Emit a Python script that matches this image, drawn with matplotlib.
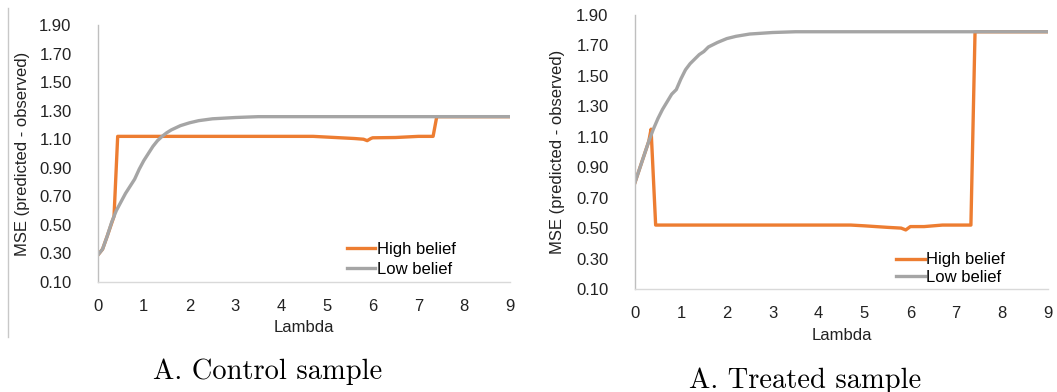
import matplotlib
matplotlib.use('Agg')
import matplotlib.pyplot as plt
from matplotlib.lines import Line2D

# Control sample
ctrl_low_x = [0.0, 0.1, 0.2, 0.3, 0.4, 0.5, 0.6, 0.7, 0.8, 0.9, 1.0, 1.1, 1.2, 1.3, 1.4,
              1.5, 1.6, 1.7, 1.8, 2.0, 2.2, 2.5, 3.0, 3.5, 9.0]
ctrl_low_y = [0.29, 0.33, 0.42, 0.52, 0.60, 0.66, 0.72, 0.77, 0.82, 0.89, 0.95, 1.00, 1.05, 1.09, 1.12,
              1.145, 1.165, 1.18, 1.195, 1.215, 1.23, 1.243, 1.252, 1.258, 1.258]
ctrl_high_x = [0.0, 0.1, 0.2, 0.35, 0.43, 4.7, 5.0, 5.3, 5.6, 5.8, 5.88, 5.96, 6.0, 6.5, 7.0,
               7.32, 7.4, 9.0]
ctrl_high_y = [0.29, 0.33, 0.42, 0.56, 1.12, 1.12, 1.115, 1.11, 1.105, 1.10, 1.09, 1.105, 1.11, 1.112, 1.12,
               1.12, 1.258, 1.258]

# Treated sample
trt_low_x = [0.0, 0.1, 0.2, 0.3, 0.4, 0.5, 0.6, 0.7, 0.8, 0.9, 1.0, 1.1, 1.2, 1.3, 1.4,
             1.5, 1.6, 1.8, 2.0, 2.2, 2.5, 3.0, 3.5, 9.0]
trt_low_y = [0.80, 0.89, 0.98, 1.07, 1.15, 1.22, 1.28, 1.33, 1.38, 1.41, 1.48, 1.54, 1.58, 1.61, 1.64,
             1.66, 1.69, 1.72, 1.745, 1.76, 1.775, 1.785, 1.79, 1.79]
trt_high_x = [0.0, 0.1, 0.2, 0.3, 0.35, 0.45, 4.7, 5.0, 5.5, 5.8, 5.9, 6.0, 6.3, 6.5, 6.7, 7.0,
              7.32, 7.41, 9.0]
trt_high_y = [0.80, 0.89, 0.98, 1.07, 1.15, 0.52, 0.52, 0.515, 0.505, 0.50, 0.488, 0.51, 0.51, 0.515, 0.52, 0.52,
              0.52, 1.79, 1.79]

y_ticks = [0.10, 0.30, 0.50, 0.70, 0.90, 1.10, 1.30, 1.50, 1.70, 1.90]
x_ticks = list(range(10))

ORANGE = '#ED7D31'
GREY = '#A5A5A5'

plt.rcParams['font.family'] = ['Liberation Sans', 'DejaVu Sans']

fig = plt.figure(figsize=(10.57, 3.92), dpi=100)
ax1 = fig.add_axes([98 / 1057, 1 - 282 / 392, 412 / 1057, 257 / 392])
ax2 = fig.add_axes([635 / 1057, 1 - 289 / 392, 413 / 1057, 274 / 392])


def style_axis(ax, high_x, high_y, low_x, low_y, leg_anchor, spacing):
    ax.plot(high_x, high_y, color=ORANGE, lw=2.4, label='High belief', solid_joinstyle='round')
    ax.plot(low_x, low_y, color=GREY, lw=2.4, label='Low belief', solid_joinstyle='round')
    ax.set_xlim(0, 9)
    ax.set_ylim(0.10, 1.90)
    ax.set_xticks(x_ticks)
    ax.set_yticks(y_ticks)
    ax.set_yticklabels([f'{v:.2f}' for v in y_ticks])
    ax.tick_params(axis='both', length=0, labelsize=12, colors='#222222')
    ax.tick_params(axis='y', pad=19)
    ax.tick_params(axis='x', pad=12)
    for s in ['top', 'right']:
        ax.spines[s].set_visible(False)
    ax.spines['left'].set_color('#BFBFBF')
    ax.spines['bottom'].set_color('#D9D9D9')
    ax.spines['left'].set_linewidth(1.0)
    ax.spines['bottom'].set_linewidth(1.0)
    ax.set_xlabel('Lambda', fontsize=12, color='#222222')
    ax.set_ylabel('MSE (predicted - observed)', fontsize=12, color='#222222')
    ax.legend(loc='lower left', bbox_to_anchor=leg_anchor, frameon=False, fontsize=12,
              handlelength=1.7, handletextpad=0.1, borderpad=0, borderaxespad=0,
              labelspacing=spacing)


style_axis(ax1, ctrl_high_x, ctrl_high_y, ctrl_low_x, ctrl_low_y, (0.604, 0.02), 0.3)
style_axis(ax2, trt_high_x, trt_high_y, trt_low_x, trt_low_y, (0.633, 0.015), 0.15)

ax1.yaxis.set_label_coords(-68 / 412, 0.5)
ax2.yaxis.set_label_coords(-70 / 413, 0.5)
ax1.xaxis.set_label_coords(0.5, -38 / 257)
ax2.xaxis.set_label_coords(0.5, -39 / 274)

# thin border line on the far left
fig.add_artist(Line2D([8 / 1057, 8 / 1057], [1 - 337 / 392, 1 - 8 / 392],
                      color='#C8C8C8', lw=1.0))

fig.text(268 / 1057, 1 - 379 / 392, 'A. Control sample', family='cmr10', fontsize=20.5,
         ha='center', va='baseline')
fig.text(805 / 1057, 1 - 388 / 392, 'A. Treated sample', family='cmr10', fontsize=20.5,
         ha='center', va='baseline')

fig.savefig('out.png', dpi=100)
